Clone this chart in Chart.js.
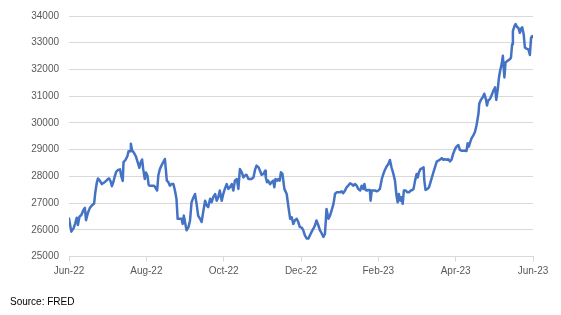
<!DOCTYPE html>
<html lang="en">
<head>
    <meta charset="UTF-8">
    <title>Source: FRED</title>
    <script src="https://cdn.jsdelivr.net/npm/chart.js"></script>
    <style>
        html, body { margin: 0; padding: 0; background: #fff; }
        #wrap { width: 561px; height: 315px; }
    </style>
</head>
<body>
    <div id="wrap"><canvas id="chart" width="561" height="315"></canvas></div>

    <script>
        // x = months since Jun-22 (tick every 2 months), y = index level
        const xLabels = ['Jun-22', 'Aug-22', 'Oct-22', 'Dec-22', 'Feb-23', 'Apr-23', 'Jun-23'];
        const months = [
            0.00, 0.06, 0.12, 0.16, 0.20, 0.23, 0.27, 0.32, 0.37, 0.41, 0.44, 0.49, 0.54, 0.59, 0.65, 0.68,
            0.72, 0.75, 0.80, 0.85, 0.91, 0.96, 1.01, 1.04, 1.08, 1.11, 1.15, 1.18, 1.22, 1.27, 1.32, 1.35,
            1.39, 1.41, 1.46, 1.51, 1.54, 1.58, 1.60, 1.63, 1.68, 1.73, 1.78, 1.82, 1.85, 1.89, 1.92, 1.96,
            1.99, 2.03, 2.06, 2.09, 2.15, 2.20, 2.23, 2.28, 2.31, 2.35, 2.41, 2.48, 2.53, 2.57, 2.61, 2.65,
            2.70, 2.74, 2.78, 2.81, 2.87, 2.91, 2.94, 2.97, 3.00, 3.04, 3.09, 3.13, 3.17, 3.22, 3.26, 3.30,
            3.34, 3.39, 3.43, 3.47, 3.52, 3.56, 3.60, 3.65, 3.69, 3.73, 3.78, 3.82, 3.86, 3.90, 3.95, 3.99,
            4.03, 4.08, 4.12, 4.16, 4.21, 4.25, 4.29, 4.34, 4.38, 4.42, 4.47, 4.51, 4.55, 4.59, 4.64, 4.68,
            4.72, 4.77, 4.81, 4.85, 4.90, 4.94, 4.98, 5.03, 5.07, 5.09, 5.12, 5.15, 5.20, 5.24, 5.28, 5.31,
            5.34, 5.39, 5.41, 5.45, 5.48, 5.52, 5.57, 5.63, 5.67, 5.72, 5.76, 5.80, 5.84, 5.89, 5.93, 5.97,
            6.02, 6.06, 6.10, 6.15, 6.19, 6.23, 6.27, 6.32, 6.36, 6.40, 6.45, 6.49, 6.53, 6.58, 6.62, 6.66,
            6.71, 6.75, 6.79, 6.84, 6.88, 6.92, 6.96, 7.01, 7.05, 7.09, 7.14, 7.18, 7.22, 7.27, 7.31, 7.35,
            7.40, 7.44, 7.48, 7.53, 7.57, 7.61, 7.64, 7.67, 7.71, 7.74, 7.78, 7.80, 7.83, 7.87, 7.91, 7.96,
            8.00, 8.04, 8.09, 8.13, 8.17, 8.21, 8.26, 8.30, 8.34, 8.39, 8.43, 8.47, 8.50, 8.53, 8.57, 8.60,
            8.63, 8.66, 8.71, 8.75, 8.79, 8.84, 8.88, 8.91, 8.95, 8.99, 9.02, 9.05, 9.09, 9.14, 9.17, 9.19,
            9.22, 9.27, 9.31, 9.42, 9.51, 9.59, 9.64, 9.68, 9.72, 9.77, 9.81, 9.85, 9.89, 9.94, 9.98, 10.02,
            10.07, 10.11, 10.15, 10.20, 10.24, 10.28, 10.31, 10.34, 10.38, 10.41, 10.46, 10.50, 10.54, 10.59, 10.61, 10.65,
            10.70, 10.74, 10.78, 10.81, 10.84, 10.89, 10.93, 10.97, 11.02, 11.05, 11.09, 11.12, 11.15, 11.19, 11.22, 11.26,
            11.29, 11.34, 11.40, 11.43, 11.46, 11.48, 11.52, 11.55, 11.59, 11.62, 11.66, 11.69, 11.72, 11.76, 11.79, 11.83,
            11.88, 11.92, 11.95, 11.98, 12.00
        ];
        const values = [
            26420, 25930, 26060, 26240, 26450, 26180, 26490, 26550, 26730, 26820, 26360, 26640, 26820, 26910, 26980, 27400,
            27770, 27920, 27830, 27710, 27770, 27830, 27900, 27920, 27800, 27630, 27800, 27980, 28170, 28240, 28260, 28020,
            27830, 28530, 28610, 28750, 28940, 28940, 29220, 28980, 28880, 28750, 28510, 28320, 28510, 28630, 28260, 27900,
            28140, 28020, 27680, 27650, 27650, 27650, 27590, 27470, 28030, 28270, 28460, 28650, 27840, 27780, 27650, 27710,
            27710, 27470, 27150, 26410, 26410, 26410, 26220, 26530, 26290, 25980, 26100, 26350, 27030, 27220, 27340, 26970,
            26530, 26410, 26290, 26660, 27090, 26910, 26850, 27160, 27030, 27220, 27340, 27090, 27220, 27470, 27090, 27340,
            27530, 27710, 27530, 27590, 27710, 27470, 27840, 27900, 27530, 28270, 28150, 27960, 28030, 28060, 27900, 27900,
            27900, 27960, 28240, 28400, 28340, 28210, 28060, 28090, 28210, 27960, 27780, 27840, 27710, 27780, 27840, 27590,
            27900, 27840, 27900, 27840, 28150, 28090, 27530, 27340, 26910, 26410, 26470, 26220, 26350, 26410, 26290, 26100,
            26080, 25980, 25790, 25670, 25670, 25790, 25910, 26040, 26160, 26350, 26160, 25980, 25880, 25730, 25850, 26780,
            26410, 26530, 26720, 26970, 27340, 27400, 27400, 27400, 27440, 27370, 27470, 27590, 27650, 27740, 27710, 27650,
            27710, 27650, 27530, 27470, 27650, 27530, 27710, 27490, 27470, 27490, 27490, 27090, 27470, 27470, 27470, 27440,
            27470, 27530, 27900, 28090, 28240, 28360, 28460, 28610, 28340, 28090, 27840, 27280, 27030, 27340, 27090, 27220,
            26970, 27470, 27470, 27400, 27400, 27470, 27490, 27530, 27840, 28090, 27960, 28150, 28270, 28310, 28340, 27840,
            27490, 27530, 27590, 28130, 28550, 28620, 28680, 28620, 28640, 28620, 28640, 28560, 28620, 28860, 29010, 29110,
            29170, 28990, 28960, 28960, 28960, 28950, 29240, 29110, 29300, 29420, 29540, 29670, 29910, 30350, 30720, 30860,
            30960, 31090, 30900, 30650, 30840, 30900, 31030, 31190, 31330, 30860, 31270, 31700, 31950, 32200, 32510, 31700,
            32260, 32320, 32380, 32440, 32940, 33430, 33620, 33700, 33580, 33560, 33370, 33520, 33580, 33310, 32820, 32780,
            32750, 32540, 33190, 33250, 33210
        ];
        const yMin = 25000, yMax = 34000, yStep = 1000;

        const points = months.map((m, i) => ({ x: m, y: values[i] }));

        new Chart(document.getElementById('chart'), {
            type: 'line',
            data: {
                datasets: [{
                    data: points,
                    borderColor: '#4472C4',
                    borderWidth: 2.5,
                    pointRadius: 0,
                    tension: 0,
                    borderJoinStyle: 'round',
                    borderCapStyle: 'round'
                }]
            },
            options: {
                responsive: false,
                animation: false,
                devicePixelRatio: 1,
                layout: { padding: { top: 13, left: 10, right: 28, bottom: 4.5 } },
                plugins: {
                    legend: { display: false },
                    tooltip: { enabled: false },
                    title: {
                        display: true,
                        text: 'Source: FRED',
                        position: 'bottom',
                        align: 'start',
                        color: '#000',
                        font: { family: 'Liberation Sans', size: 10, weight: 'normal' },
                        padding: { top: 10, bottom: 2 }
                    }
                },
                scales: {
                    x: {
                        type: 'linear',
                        min: 0,
                        max: 12,
                        afterBuildTicks: axis => {
                            axis.ticks = xLabels.map((_, i) => ({ value: i * 2 }));
                        },
                        afterFit: axis => { axis.height = 30; },
                        ticks: {
                            callback: v => xLabels[Math.round(v / 2)],
                            color: '#595959',
                            font: { family: 'Liberation Sans', size: 10 },
                            maxRotation: 0,
                            padding: 4
                        },
                        grid: { drawOnChartArea: false, drawTicks: true, tickLength: 5, color: '#d9d9d9' },
                        border: { color: '#d9d9d9' }
                    },
                    y: {
                        min: yMin,
                        max: yMax,
                        afterFit: axis => { axis.width = 59; },
                        ticks: {
                            stepSize: yStep,
                            callback: v => String(v),
                            color: '#595959',
                            font: { family: 'Liberation Sans', size: 10 },
                            padding: 10
                        },
                        grid: { color: '#d9d9d9', lineWidth: 1, drawTicks: false },
                        border: { display: false }
                    }
                }
            }
        });
    </script>
</body>
</html>
